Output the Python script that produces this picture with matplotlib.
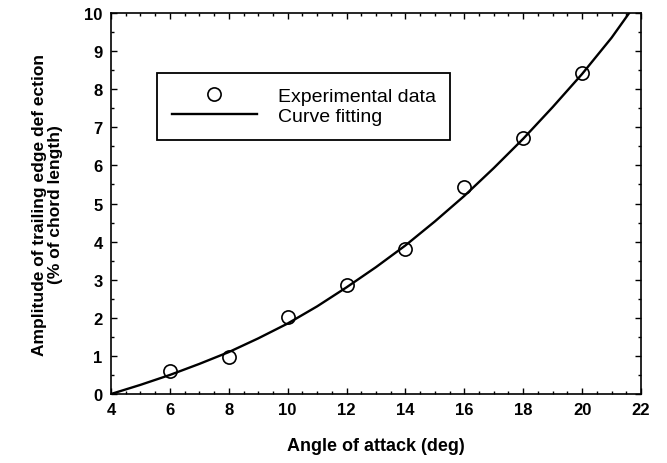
import numpy as np
import matplotlib
matplotlib.use('Agg')
import matplotlib.pyplot as plt
from matplotlib.ticker import MultipleLocator

plt.rcParams['font.family'] = ['Liberation Sans', 'DejaVu Sans']

# experimental points
angle_exp = [6, 8, 10, 12, 14, 16, 18, 20]
ampl_exp = [0.61, 0.96, 2.01, 2.86, 3.81, 5.44, 6.73, 8.42]

# fitted curve
angle_fit = [4, 5, 6, 7, 8, 9, 10, 11, 12, 13, 14, 15, 16, 17, 18, 19, 20, 21, 21.6]
ampl_fit = [0, 0.24, 0.5, 0.79, 1.1, 1.46, 1.85, 2.3, 2.8, 3.33, 3.9, 4.53,
            5.2, 5.93, 6.7, 7.53, 8.4, 9.35, 10.0]

fig = plt.figure(figsize=(6.67, 4.64), dpi=100)
ax = fig.add_axes([111/667, 1 - 395/464, 530/667, 381/464])

ax.plot(angle_exp, ampl_exp, 'o', mfc='none', mec='k', mew=1.2, ms=9.5,
        label='Experimental data', zorder=3)
ax.plot(angle_fit, ampl_fit, '-k', lw=1.7, label='Curve fitting')

ax.set_xlim(4, 22)
ax.set_ylim(0, 10)
ax.xaxis.set_major_locator(MultipleLocator(2))
ax.xaxis.set_minor_locator(MultipleLocator(0.5))
ax.yaxis.set_major_locator(MultipleLocator(1))
ax.yaxis.set_minor_locator(MultipleLocator(0.5))
ax.tick_params(which='both', direction='in', top=True, right=True, width=1)
ax.tick_params(which='major', length=4, pad=6)
ax.tick_params(which='minor', length=2)
for lab in ax.get_xticklabels() + ax.get_yticklabels():
  lab.set_fontweight('bold')
  lab.set_fontsize(12)
for sp in ax.spines.values():
  sp.set_linewidth(1.2)

ax.set_xlabel('Angle of attack (deg)', fontsize=13, fontweight='bold', labelpad=14)
ax.set_ylabel('Amplitude of trailing edge def ection\n(% of chord length)',
              fontsize=12.5, fontweight='bold', labelpad=15, linespacing=1.15)

leg = ax.legend(loc='upper left', bbox_to_anchor=(157/667, 1 - 74/464),
                bbox_transform=fig.transFigure, borderaxespad=0,
                fontsize=14, handlelength=4.4, handletextpad=1.05,
                labelspacing=0.12, borderpad=0.75, fancybox=False,
                edgecolor='k', framealpha=1)
leg.get_frame().set_linewidth(1.3)

plt.savefig('out.png', dpi=100)
